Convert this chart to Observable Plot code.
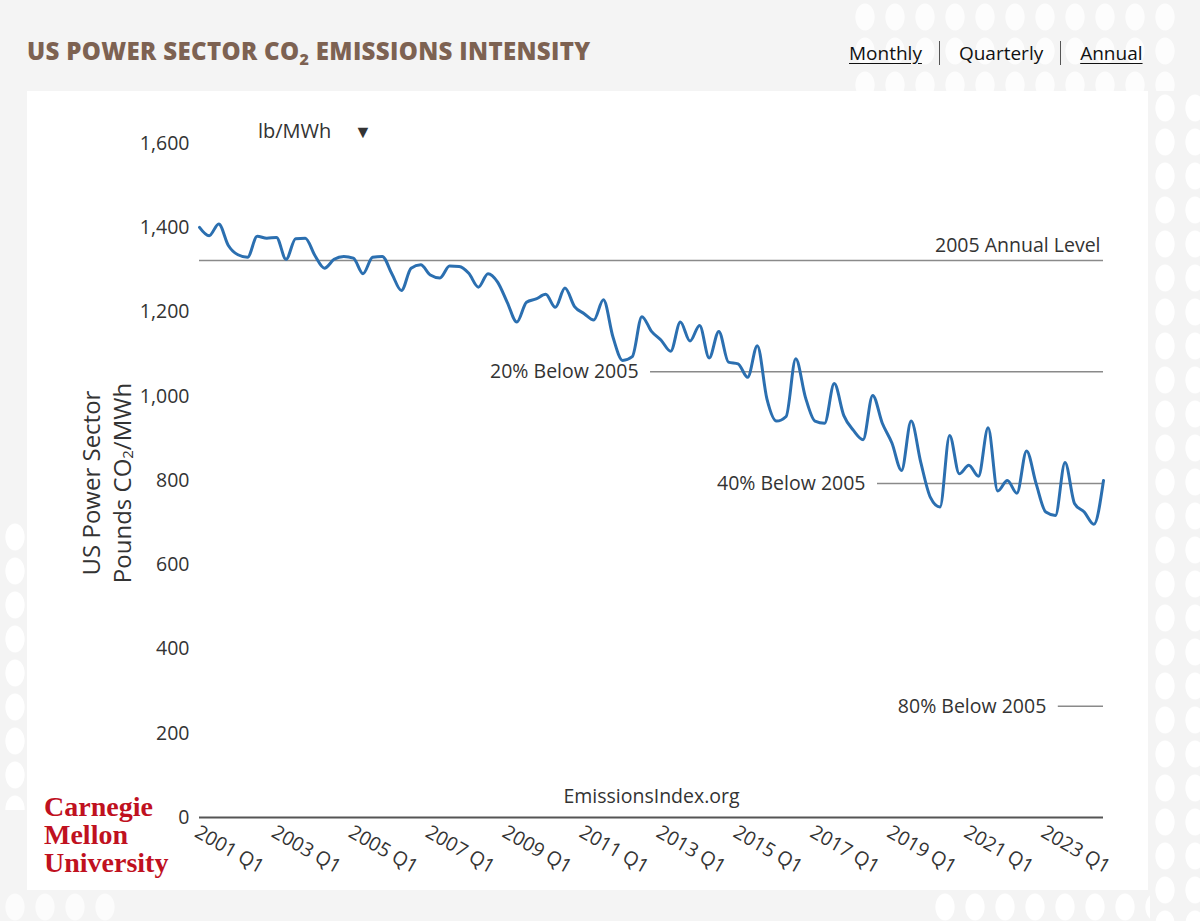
<!DOCTYPE html>
<html>
<head>
<meta charset="utf-8">
<script src="https://cdn.jsdelivr.net/npm/d3@7"></script>
<script src="https://cdn.jsdelivr.net/npm/@observablehq/plot@0.6"></script>
<style>
  html, body { margin: 0; padding: 0; }
  body { width: 1200px; height: 921px; background: #f4f4f4; font-family: "Open Sans", sans-serif; position: relative; overflow: hidden; }
  .dots { position: absolute; background-image: radial-gradient(ellipse 10px 14px at 50% 50%, #ffffff 92%, rgba(255,255,255,0) 100%); background-size: 30px 34px; }
  #title { position: absolute; left: 27px; top: 34px; font-size: 24px; font-weight: 800; color: #7d6252; letter-spacing: 0.35px; white-space: nowrap; }
  #title sub { font-size: 16px; vertical-align: -5px; line-height: 0; }
  #nav { position: absolute; left: 849px; top: 40px; font-size: 19px; color: #111; white-space: nowrap; }
  #nav .u { text-decoration: underline; text-underline-offset: 3px; }
  #nav .sep { display: inline-block; width: 1px; height: 24px; background: #555; vertical-align: -5px; margin: 0 19px 0 17px; }
  #panel { position: absolute; left: 27px; top: 91px; width: 1121px; height: 799px; background: #fff; }
  #logo { position: absolute; left: 44px; top: 793px; font-family: "Liberation Serif", serif; font-weight: bold; color: #c0111f; font-size: 28px; line-height: 28px; letter-spacing: 0px; }
</style>
</head>
<body>
<div class="dots" style="left:850px;top:0;width:330px;height:91px;opacity:0.85"></div>
<div class="dots" style="left:1150px;top:91px;width:50px;height:830px;"></div>
<div class="dots" style="left:930px;top:890px;width:220px;height:31px;"></div>
<div class="dots" style="left:0;top:520px;width:27px;height:290px;"></div>
<div class="dots" style="left:0;top:890px;width:120px;height:31px;opacity:0.7"></div>
<div id="title">US POWER SECTOR CO<sub>2</sub> EMISSIONS INTENSITY</div>
<div id="nav"><span class="u">Monthly</span><span class="sep"></span><span>Quarterly</span><span class="sep"></span><span class="u">Annual</span></div>
<div id="panel"></div>
<div id="logo">Carnegie<br>Mellon<br>University</div>
<script>
// ---- data ----
const years = [2001, 2002, 2003, 2004, 2005, 2006, 2007, 2008, 2009, 2010, 2011, 2012,
               2013, 2014, 2015, 2016, 2017, 2018, 2019, 2020, 2021, 2022, 2023, 2024];
const quarterNames = ["Q1", "Q2", "Q3", "Q4"];
// US power sector CO2 intensity, lb/MWh, quarterly from 2001 Q1
const values = [
  1401, 1381, 1409, 1358, 1336, 1330, 1380, 1375, 1377, 1325,
  1374, 1375, 1334, 1304, 1325, 1332, 1328, 1291, 1330, 1332,
  1291, 1251, 1304, 1312, 1288, 1281, 1309, 1308, 1292, 1259,
  1291, 1271, 1223, 1176, 1223, 1231, 1242, 1211, 1257, 1213,
  1196, 1181, 1229, 1140, 1085, 1094, 1189, 1154, 1133, 1107,
  1176, 1131, 1168, 1091, 1154, 1081, 1077, 1045, 1120, 994,
  941, 952, 1089, 998, 941, 936, 1030, 954, 919, 897,
  1002, 936, 889, 824, 941, 843, 760, 737, 907, 816,
  836, 810, 925, 775, 800, 770, 870, 792, 725, 717,
  843, 745, 725, 696, 800
];
const xTickLabels = ["2001 Q1", "2003 Q1", "2005 Q1", "2007 Q1", "2009 Q1", "2011 Q1",
                     "2013 Q1", "2015 Q1", "2017 Q1", "2019 Q1", "2021 Q1", "2023 Q1"];
const yTicks = [0, 200, 400, 600, 800, 1000, 1200, 1400, 1600];
const refLabels = ["2005 Annual Level", "20% Below 2005", "40% Below 2005", "80% Below 2005"];
const refValues = [1322, 1058, 793, 264];

// ---- build table ----
const quarters = years.flatMap(y => quarterNames.map(q => `${y} ${q}`)).slice(0, values.length);
const series = values.map((v, i) => ({i, label: quarters[i], v}));
const tickIdx = xTickLabels.map(l => quarters.indexOf(l));
const refs = refLabels.map((label, k) => ({label, v: refValues[k]}));

// layout (x in quarter-index units where each rule begins, after its label)
const refStart = [0, 46.9, 70.5, 89.3];
const W = 1121, H = 799, ML = 172, MR = 45, MT = 52, MB = 73;
const FS = 19.5;

const chart = Plot.plot({
  width: W, height: H,
  marginLeft: ML, marginRight: MR, marginTop: MT, marginBottom: MB,
  style: {fontFamily: "Open Sans", fontSize: FS + "px", color: "#333", background: "white", overflow: "visible"},
  x: {domain: [0, values.length - 1]},
  y: {domain: [0, 1600]},
  marks: [
    Plot.axisY({ticks: yTicks, tickSize: 0, tickPadding: 10, tickFormat: d3.format(","), label: null, fontSize: FS, fill: "#333"}),
    Plot.axisX({ticks: tickIdx, tickSize: 0, tickPadding: 13, tickFormat: i => quarters[i], tickRotate: 30,
                textAnchor: "start", label: null, fontSize: FS, fill: "#333", dx: -3}),
    Plot.ruleY(refs, {y: "v", x1: (d, k) => refStart[k], x2: values.length - 1, stroke: "#8a8a8a", strokeWidth: 1.5}),
    Plot.text(refs.slice(0, 1), {y: "v", frameAnchor: "right", text: "label", textAnchor: "end", dx: -3, dy: -15, fill: "#333", fontSize: FS}),
    Plot.text(refs.slice(1), {y: "v", x: (d, k) => refStart[k + 1], text: "label", textAnchor: "end", dx: -12, fill: "#333", fontSize: FS}),
    Plot.ruleY([0], {stroke: "#555", strokeWidth: 2}),
    Plot.text(["EmissionsIndex.org"], {frameAnchor: "bottom", text: d => d, dy: -15, fill: "#333", fontSize: FS}),
    Plot.line(series, {x: "i", y: "v", stroke: "#2b6fb0", strokeWidth: 3, curve: "monotone-x"})
  ]
});
document.getElementById("panel").appendChild(chart);

// extra svg texts: y-axis title and unit selector
const svg = d3.select(chart);
const cy = 392;
svg.append("text").attr("transform", `translate(63,${cy}) rotate(-90)`)
  .attr("text-anchor", "middle").attr("dominant-baseline", "central")
  .attr("font-size", 24).attr("fill", "#333").text("US Power Sector");
const t2 = svg.append("text").attr("transform", `translate(94,${cy}) rotate(-90)`)
  .attr("text-anchor", "middle").attr("dominant-baseline", "central")
  .attr("font-size", 24).attr("fill", "#333");
t2.append("tspan").text("Pounds CO");
t2.append("tspan").attr("font-size", 15).attr("dy", 6).text("2");
t2.append("tspan").attr("dy", -6).text("/MWh");
svg.append("text").attr("x", 231).attr("y", 47).attr("text-anchor", "start").attr("font-size", 20).attr("fill", "#333").text("lb/MWh");
svg.append("text").attr("x", 336).attr("y", 47).attr("text-anchor", "middle").attr("font-size", 18).attr("fill", "#333").text("▼");
</script>
</body>
</html>
